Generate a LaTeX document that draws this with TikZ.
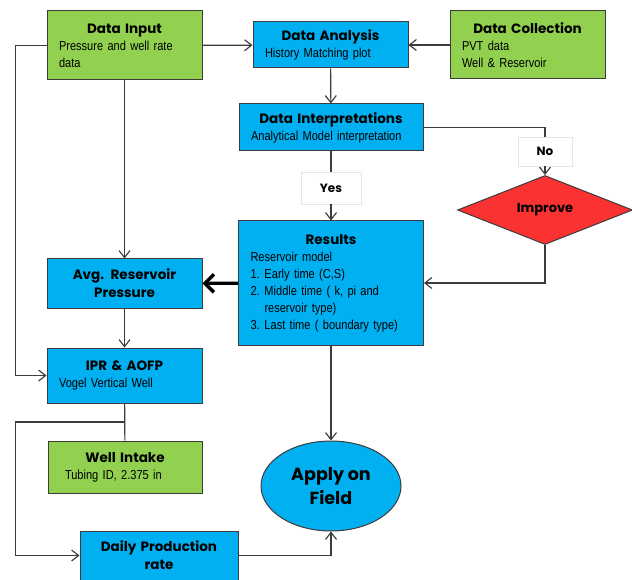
\documentclass[tikz,border=0pt]{standalone}
\usepackage{fontspec}
\setmainfont{Liberation Sans}
\newfontfamily\bodyfont{Liberation Sans}[FakeStretch=0.85]
\newfontfamily\headfont{Poppins}
\usetikzlibrary{arrows.meta, positioning, shapes.geometric}
\definecolor{boxgreen}{HTML}{92D050}
\definecolor{boxblue}{HTML}{00B0F0}
\definecolor{boxred}{HTML}{FA3232}
\definecolor{edge}{HTML}{3C3C3C}
\newcommand{\boxtitle}[1]{{\centering\headfont\bfseries\fontsize{13.5}{18}\selectfont #1\par}}

\begin{document}
\begin{tikzpicture}[x=1pt, y=-1pt, >={Straight Barb[length=7pt,width=11pt]},
    panel/.style={draw=edge, line width=1pt, inner xsep=12pt, inner ysep=2pt, align=left,
        font=\bodyfont\fontsize{13}{17}\selectfont},
    inputbox/.style={panel, fill=boxgreen},
    stepbox/.style={panel, fill=boxblue},
    tag/.style={draw=black!10, fill=white, inner sep=0pt, font=\headfont\bfseries\fontsize{12}{14}\selectfont},
    link/.style={->, draw=edge, line width=1.15pt}]
    \useasboundingbox (0,0) rectangle (632,580);

    % Top row: inputs and analysis
    \node[inputbox, minimum width=155pt, minimum height=69pt, text width=131pt] (input) at (124.5,45.5)
        {\boxtitle{Data Input}Pressure and well rate\\data};
    \node[stepbox, minimum width=155pt, minimum height=46pt, text width=131pt] (analysis) at (330.5,45)
        {\boxtitle{Data Analysis}History Matching plot};
    \node[inputbox, minimum width=155pt, minimum height=68pt, text width=131pt] (collect) at (527.5,45)
        {\boxtitle{Data Collection}PVT data\\Well \& Reservoir};

    % Interpretation and the check loop
    \node[stepbox, minimum width=184pt, minimum height=47pt, text width=160pt] (interp) at (331,127.5)
        {\boxtitle{Data Interpretations}Analytical Model interpretation};
    \node[tag, minimum width=54pt, minimum height=29pt] (no) at (545,151.5) {No};
    \node[diamond, draw=edge, line width=1pt, fill=boxred, minimum width=175pt, minimum height=60pt,
        inner sep=0pt, font=\headfont\bfseries\fontsize{13}{15}\selectfont] (improve) at (545,210) {Improve};
    \node[tag, minimum width=60pt, minimum height=32pt] (yes) at (331,188) {Yes};

    \node[stepbox, minimum width=185pt, minimum height=124pt, text width=161pt] (results) at (331,283)
        {\boxtitle{Results}Reservoir model\\
        \makebox[14pt][l]{1.}Early time (C,S)\\
        \makebox[14pt][l]{2.}Middle time ( k, pi and\\
        \hspace*{14pt}reservoir type)\\
        \makebox[14pt][l]{3.}Last time ( boundary type)};

    % Left column: well performance
    \node[stepbox, minimum width=155pt, minimum height=49pt, text width=131pt] (avgp) at (124.5,283.5)
        {\boxtitle{Avg. Reservoir\\Pressure}};
    \node[stepbox, minimum width=155pt, minimum height=55pt, text width=131pt] (ipr) at (124.5,375.5)
        {\boxtitle{IPR \& AOFP}Vogel Vertical Well};
    \node[inputbox, minimum width=154pt, minimum height=52pt, text width=130pt] (intake) at (125,467)
        {\boxtitle{Well Intake}\hspace*{5pt}Tubing ID, 2.375 in};
    \node[stepbox, minimum width=158pt, minimum height=49pt, text width=134pt] (daily) at (159,555.5)
        {\boxtitle{Daily Production\\rate}};
    \node[ellipse, draw=edge, line width=1pt, fill=boxblue, minimum width=140pt, minimum height=90pt,
        inner sep=0pt, align=center, font=\headfont\bfseries\fontsize{17.5}{24}\selectfont] (apply) at (331,486)
        {Apply on\\Field};
    \coordinate (split) at (124.5,422);

    % Connectors
    \draw[link] (input) -- (analysis);
    \draw[link] (collect) -- (analysis);
    \draw[link] (analysis) -- (interp);
    \draw[edge, line width=1.15pt] (interp.east) -| (no.north);
    \draw[link] (no) -- (improve);
    \draw[edge, line width=1.15pt] (interp) -- (yes);
    \draw[link] (yes) -- (results);
    \draw[link] (improve.south) |- (results.east);
    \draw[->, draw=black, line width=3.4pt, >={Straight Barb[length=9pt,width=18pt]}] (results) -- (avgp);
    \draw[link] (input) -- (avgp);
    \draw[link] (avgp) -- (ipr);
    \draw[link] (input.west) -- ++(-31,0) |- (ipr.west);
    \draw[edge, line width=1.15pt] (ipr) -- (intake);
    \draw[link] (split) -- ++(-109,0) |- (daily.west);
    \draw[link] (results) -- (apply);
    \draw[link] (daily.east) -| (apply.south);
\end{tikzpicture}
\end{document}
